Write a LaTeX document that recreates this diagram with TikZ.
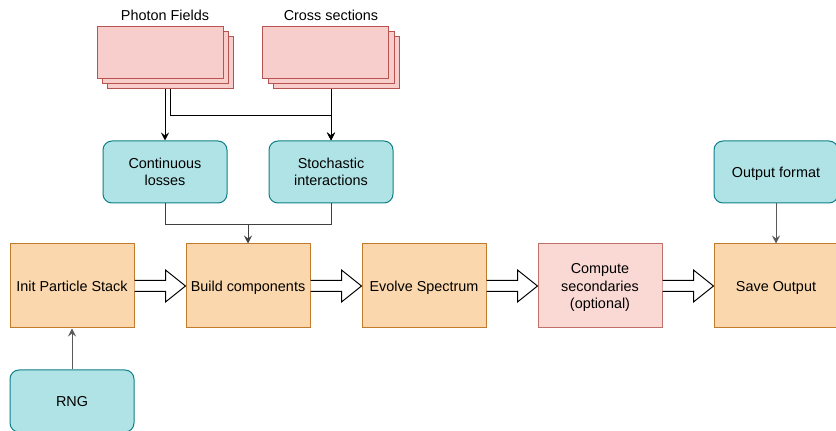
\documentclass[tikz,border=0pt]{standalone}
\usepackage{fontspec}
\setmainfont{Liberation Sans}
\usepackage{tikz}
\usetikzlibrary{positioning,arrows.meta}
\definecolor{orangefill}{HTML}{FAD7AC}
\definecolor{orangedraw}{HTML}{C27A2C}
\definecolor{tealfill}{HTML}{B0E3E6}
\definecolor{tealdraw}{HTML}{0E8088}
\definecolor{redfill}{HTML}{F8CECC}
\definecolor{reddraw}{HTML}{B85450}
\definecolor{pinkfill}{HTML}{FAD9D5}
\definecolor{pinkdraw}{HTML}{C0706A}
\tikzset{step node/.style={rectangle,fill=orangefill,draw=orangedraw,line width=1pt,minimum width=124pt,minimum height=84pt,inner sep=0pt,align=center,text depth=0pt},
	input node/.style={rectangle,rounded corners=9pt,fill=tealfill,draw=tealdraw,line width=1pt,minimum width=124pt,minimum height=62pt,inner sep=0pt,align=center,text depth=0pt},
	data layer/.style={rectangle,fill=redfill,draw=reddraw,line width=1pt,minimum width=126pt,minimum height=52pt,inner sep=0pt},
	link/.style={draw,line width=1pt,-{Stealth[length=8pt,width=8pt,inset=3pt]}},}
\newcommand{\flowarrow}[2]{%
	\draw[line width=1pt,fill=white] ([yshift=5.5pt]#1.east) -- ([xshift=-20pt,yshift=5.5pt]#2.west)
	-- ([xshift=-20pt,yshift=16pt]#2.west) -- (#2.west) -- ([xshift=-20pt,yshift=-16pt]#2.west)
	-- ([xshift=-20pt,yshift=-5.5pt]#2.west) -- ([yshift=-5.5pt]#1.east);}

\begin{document}
\begin{tikzpicture}[x=1pt,y=1pt,font=\fontsize{14.4}{17.3}\selectfont]
	\useasboundingbox (0,0) rectangle (836,431);

	% main row
	\node[step node] (init) at (72,145) {Init Particle Stack};
	\node[step node] (build) [right = 51pt of init] {Build components};
	\node[step node] (evolve) [right = 51pt of build] {Evolve Spectrum};
	\node[step node,fill=pinkfill,draw=pinkdraw] (second) [right = 51pt of evolve] {Compute\\secondaries\\(optional)};
	\node[step node] (save) [right = 51pt of second] {Save Output};

	% inputs
	\node[input node] (rng) [below = 41pt of init] {RNG};
	\node[input node] (outfmt) [above = 40pt of save] {Output format};
	\node[input node] (cl) at (165,259) {Continuous\\losses};
	\node[input node] (si) [right = 41pt of cl] {Stochastic\\interactions};

	% data stacks
	\node[data layer] (pf3) at (170.5,368) {};
	\node[data layer] (pf2) at (165.5,373) {};
	\node[data layer] (pf1) at (160,378) {};
	\node (pflabel) at (165,416) {Photon Fields};

	\node[data layer] (cs3) at (336,368) {};
	\node[data layer] (cs2) at (331,373) {};
	\node[data layer] (cs1) at (325.5,378) {};
	\node (cslabel) at (331,416) {Cross sections};

	\path[link]
	(pf3.south -| cl.north) -- (cl.north);
	\path[link]
	(pf3.south) -- ++(0,-26) -| (si.north);
	\path[link]
	(cs3.south -| si.north) -- (si.north);

	\draw[line width=1pt,black!75] (cl.south) -- ++(0,-21) coordinate (join) -| (si.south);
	\path[link,black!75]
	(join -| build.north) -- (build.north);

	\path[link,black!65]
	(rng.north) -- (init.south);
	\path[link,black!65]
	(outfmt.south) -- (save.north);

	\flowarrow{init}{build}
	\flowarrow{build}{evolve}
	\flowarrow{evolve}{second}
	\flowarrow{second}{save}
\end{tikzpicture}
\end{document}
